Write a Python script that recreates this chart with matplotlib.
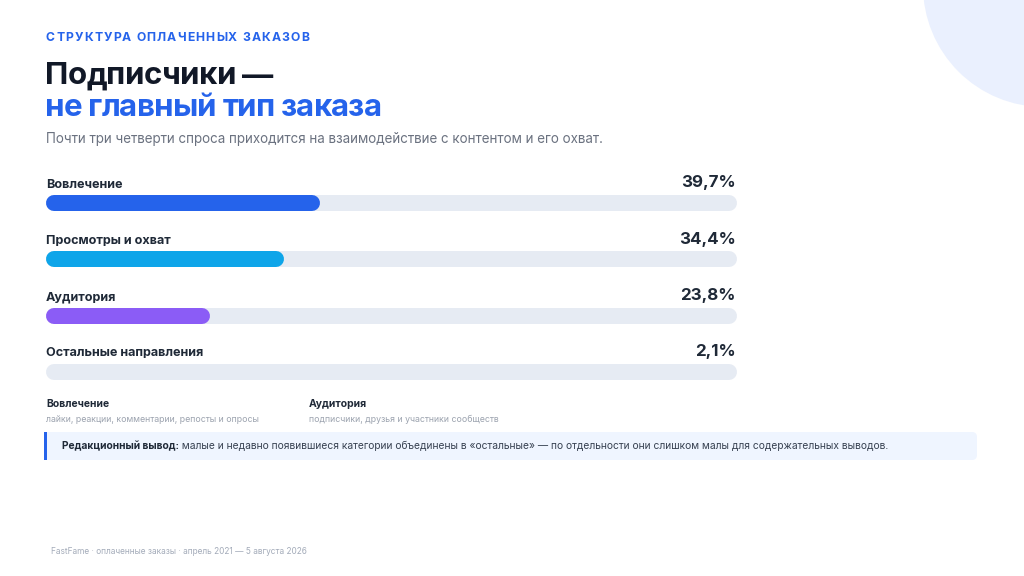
import matplotlib
matplotlib.use("Agg")
import matplotlib.pyplot as plt
from matplotlib.patches import Circle, FancyBboxPatch, Rectangle

plt.rcParams['font.family'] = ['Inter', 'DejaVu Sans']

# ---- data ----
categories = ["Вовлечение", "Просмотры и охват", "Аудитория", "Остальные направления"]
shares = [39.7, 34.4, 23.8, 2.1]
share_labels = ["39,7%", "34,4%", "23,8%", "2,1%"]
bar_colors = ["#2563EB", "#0EA5E9", "#8B5CF6", "#D8DFEC"]

eyebrow = "СТРУКТУРА ОПЛАЧЕННЫХ ЗАКАЗОВ"
title_1 = "Подписчики —"
title_2 = "не главный тип заказа"
subtitle = "Почти три четверти спроса приходится на взаимодействие с контентом и его охват."
notes = [("Вовлечение", "лайки, реакции, комментарии, репосты и опросы"),
         ("Аудитория", "подписчики, друзья и участники сообществ")]
callout_bold = "Редакционный вывод:"
callout_text = " малые и недавно появившиеся категории объединены в «остальные» — по отдельности они слишком малы для содержательных выводов."
footer = "FastFame · оплаченные заказы · апрель 2021 — 5 августа 2026"

W, H = 1024, 576
fig = plt.figure(figsize=(W / 100, H / 100), dpi=100)
fig.patch.set_facecolor("white")

bg = fig.add_axes([0, 0, 1, 1], zorder=0)
bg.set_xlim(0, W)
bg.set_ylim(H, 0)
bg.axis("off")

bg.add_patch(Circle((1044, -14), 121, color="#EAF0FE", lw=0, zorder=0))

renderer = fig.canvas.get_renderer()


def text_width(s, **kw):
    t = bg.text(0, 0, s + "Ж", **kw)
    t2 = bg.text(0, 0, "Ж", **kw)
    w = t.get_window_extent(renderer).width - t2.get_window_extent(renderer).width
    t.remove(); t2.remove()
    return w


def spaced_text(x, y, s, spacing, va="center", **kw):
    for i, ch in enumerate(s):
        if ch == " ":
            continue
        bg.text(x + text_width(s[:i], **kw) + spacing * i, y, ch,
                va=va, ha="left", **kw)


# eyebrow with letter spacing
eb_kw = dict(fontsize=8.8, fontweight="bold", color="#2563EB")
natural = text_width(eyebrow, **eb_kw)
spacing = (263 - natural) / (len(eyebrow) - 1)
spaced_text(46, 38, eyebrow, spacing, **eb_kw)

spaced_text(45, 84.5, title_1, -0.6, va="baseline", fontsize=22.5, fontweight="bold", color="#111827")
spaced_text(45, 116.5, title_2, -0.85, va="baseline", fontsize=22.5, fontweight="bold", color="#2563EB")
bg.text(46, 139, subtitle, fontsize=9.65, color="#6B7280", va="center")

# notes
for (head, desc), nx in zip(notes, [46, 309]):
    bg.text(nx, 404, head, fontsize=7.5, fontweight="bold", color="#1F2937", va="center")
    bg.text(nx, 419, desc, fontsize=6.3, color="#9CA3AF", va="center")

# callout
bg.add_patch(FancyBboxPatch((44, 432), 933, 28, boxstyle="round,pad=0,rounding_size=5",
                            fc="#EFF5FF", ec="none", zorder=1))
bg.add_patch(Rectangle((44, 432), 3, 28, fc="#2563EB", ec="none", zorder=2))
cb_kw = dict(fontsize=7.36, fontweight="bold", color="#1F2937")
bg.text(62, 446, callout_bold, va="center", zorder=3, **cb_kw)
bw = text_width(callout_bold, **cb_kw)
bg.text(62 + bw, 446, callout_text, fontsize=7.36, color="#374151", va="center", zorder=3)

bg.text(51, 551, footer, fontsize=6, color="#A3ABB9", va="center")

# ---- bar axes ----
left_px, right_px = 46, 737
row_h = 56.33
top_px = 203 - row_h / 2
n = len(categories)
ax = fig.add_axes([left_px / W, 1 - (top_px + n * row_h) / H,
                   (right_px - left_px) / W, n * row_h / H], zorder=2)
ax.set_facecolor("none")
ax.set_xlim(0, 100)
ax.set_ylim(n - 0.5, -0.5)
ax.axis("off")

bar_px = 16
lw_pt = bar_px * 72 / 100
r_data = (bar_px / 2) / (right_px - left_px) * 100
off_pt = 15.5 * 72 / 100

for i, (cat, v, lab, c) in enumerate(zip(categories, shares, share_labels, bar_colors)):
    ax.plot([r_data, 100 - r_data], [i, i], color="#E6EBF3", lw=lw_pt,
            solid_capstyle="round", zorder=1)
    end = max(v - r_data, r_data)
    ax.plot([r_data, end], [i, i], color=c, lw=lw_pt, solid_capstyle="round", zorder=2)
    ax.annotate(cat, (0, i), xytext=(0, off_pt), textcoords="offset points",
                fontsize=9.1, fontweight="bold", color="#1F2937", ha="left", va="baseline")
    ax.annotate(lab, (100, i), xytext=(-1, off_pt), textcoords="offset points",
                fontsize=12.2, fontweight="bold", color="#1F2937", ha="right", va="baseline")

fig.savefig("out.png", dpi=100, facecolor="white")
